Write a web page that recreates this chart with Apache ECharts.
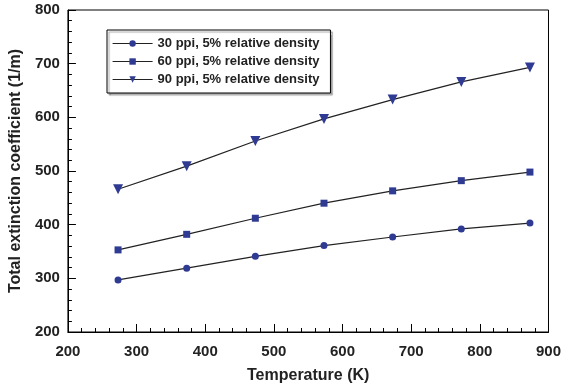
<!DOCTYPE html>
<html><head><meta charset="utf-8">
<script src="https://cdn.jsdelivr.net/npm/echarts@6/dist/echarts.min.js"></script>
<style>html,body{margin:0;padding:0;background:#fff}#c{width:564px;height:390px}</style>
</head><body><div id="c"></div>
<script>
var temperatures = [273, 373, 473, 573, 673, 773, 873];
var ppi30 = [297, 319, 341, 361, 377, 392, 403];
var ppi60 = [353, 382, 412, 440, 463, 482, 498];
var ppi90 = [466, 509, 556, 597, 633, 666, 693];
var seriesNames = ['30 ppi, 5% relative density', '60 ppi, 5% relative density', '90 ppi, 5% relative density'];
var xTicks = [200, 300, 400, 500, 600, 700, 800, 900];
var yTicks = [200, 300, 400, 500, 600, 700, 800];

var markColor = '#2f3a93';
var font = 'Arial, "Liberation Sans", sans-serif';
function pairs(vals){ return temperatures.map(function(t,i){ return [t, vals[i]]; }); }
function mk(name, vals, symbol, size, rot){
  return {
    name: name, type: 'line', data: pairs(vals), symbol: symbol, symbolSize: size, symbolRotate: rot || 0,
    xAxisIndex: 0, yAxisIndex: 0,
    itemStyle: {color: markColor}, lineStyle: {color: '#222', width: 1.2},
    emphasis: {disabled: true}, animation: false
  };
}
var labelStyle = {fontFamily: font, fontWeight: 'bold', fontSize: 15, color: '#222'};
var nameStyle = {fontFamily: font, fontWeight: 'bold', fontSize: 16, color: '#222'};
function mainAxis(ticks, name, gap, margin){
  return {
    type: 'value', min: ticks[0], max: ticks[ticks.length-1], interval: 100,
    name: name, nameLocation: 'middle', nameGap: gap, nameTextStyle: nameStyle,
    axisLine: {show: true, lineStyle: {color: '#000', width: 1}},
    axisTick: {show: true, inside: true, length: 8, lineStyle: {color: '#000'}},
    splitLine: {show: false},
    axisLabel: Object.assign({margin: margin}, labelStyle)
  };
}
function minorAxis(ticks){
  return {
    type: 'value', min: ticks[0], max: ticks[ticks.length-1], interval: 20,
    axisLine: {show: false},
    axisTick: {show: true, inside: true, length: 4, lineStyle: {color: '#000'}},
    splitLine: {show: false}, axisLabel: {show: false}
  };
}
var chart = echarts.init(document.getElementById('c'), null, {renderer: 'canvas'});
var xMain = mainAxis(xTicks, 'Temperature (K)', 36, 12); xMain.position = 'bottom';
var xMinor = minorAxis(xTicks); xMinor.position = 'bottom';
var yMain = mainAxis(yTicks, 'Total extinction coefficient (1/m)', 38, 8); yMain.position = 'left';
var yMinor = minorAxis(yTicks); yMinor.position = 'left';
chart.setOption({
  animation: false,
  grid: {left: 65, right: 13, top: 10, bottom: 58, show: true, borderColor: '#000', borderWidth: 1},
  legend: {
    orient: 'vertical', left: 107, top: 30, padding: [7, 11, 7, 5], itemGap: 5,
    itemWidth: 40, itemHeight: 8,
    borderColor: '#000', borderWidth: 1, backgroundColor: '#fff',
    shadowColor: 'rgba(0,0,0,0.35)', shadowOffsetX: 2, shadowOffsetY: 2, shadowBlur: 1,
    lineStyle: {color: '#222', width: 1.2},
    textStyle: {fontFamily: font, fontWeight: 'bold', fontSize: 13, color: '#222', lineHeight: 13},
    data: seriesNames.map(function(n){ return {name: n, lineStyle: {color: '#222', width: 1.2}}; })
  },
  xAxis: [xMain, xMinor],
  yAxis: [yMain, yMinor],
  series: [
    mk(seriesNames[0], ppi30, 'circle', 7),
    mk(seriesNames[1], ppi60, 'rect', 7),
    mk(seriesNames[2], ppi90, 'triangle', 10, 180)
  ]
});
</script></body></html>
